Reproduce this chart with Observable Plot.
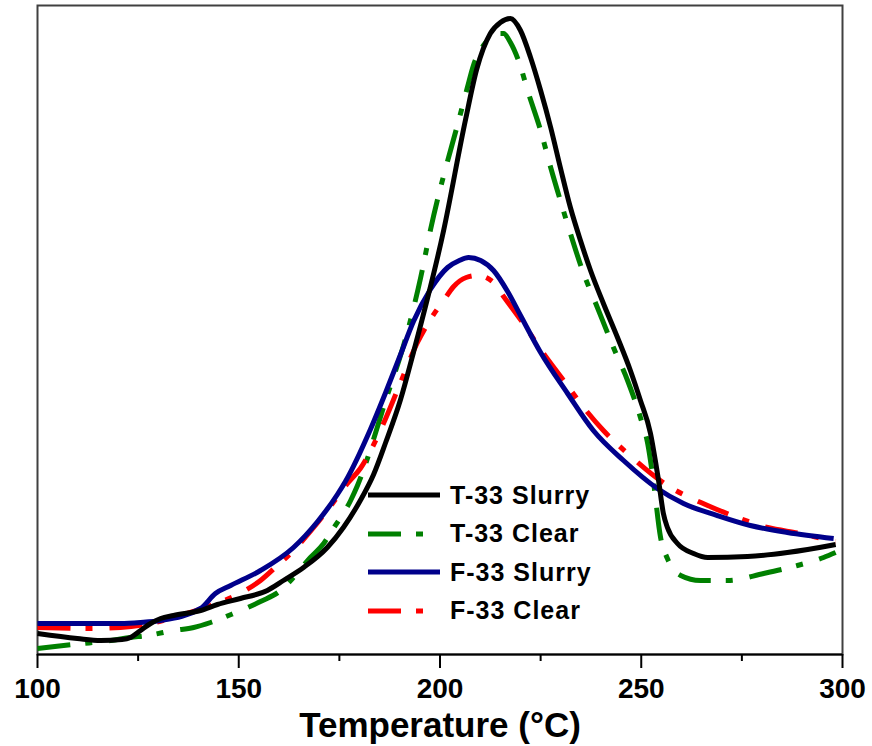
<!DOCTYPE html>
<html>
<head>
<meta charset="utf-8">
<script src="https://cdn.jsdelivr.net/npm/d3@7"></script>
<script src="https://cdn.jsdelivr.net/npm/@observablehq/plot@0.6"></script>
<style>
  html, body { margin: 0; padding: 0; background: #fff; }
  #wrap { position: relative; width: 872px; height: 746px; font-family: "Liberation Sans", Arial, sans-serif; }
  #legend { position: absolute; left: 368px; top: 476px; }
  .row { display: flex; align-items: center; height: 38.5px; }
  .row svg { width: 72px; height: 38px; margin-right: 10px; flex: none; }
  .row span { font-size: 25px; font-weight: bold; letter-spacing: 1px; color: #000; line-height: 1; }
</style>
</head>
<body>
<div id="wrap"></div>
<script>
// Series names and styles
const seriesNames = ["T-33 Slurry", "T-33 Clear", "F-33 Slurry", "F-33 Clear"];
const seriesColors = ["#000000", "#008000", "#00008b", "#ff0000"];
const seriesDash = [null, "33,15,7,17", null, "33,15,7,17"];

// Temperatures (°C) and signal values (arbitrary units)
const tempT33Slurry = [100,109.9,115.7,121.0,123.1,125.6,128.1,130.6,133.8,140.5,144.7,150.4,157.1,161.1,166.1,172.0,176.0,180.2,183.5,186.5,190.2,193.4,200.9,206.3,209.1,212.5,215.0,217.5,220.0,222.5,225.0,227.5,229.9,232.4,234.9,237.4,240.6,244.1,247.3,249.8,252.3,253.5,254.3,255.5,256.5,259.0,263.0,266.5,276.4,286.3,297.0,298.3];
const valT33Slurry  = [21,16,14,15,17,24,31,36,39,44,50,56,64,74,87,107,127,154,180,212,255,302,424,534,585,621,632,636,624,597,564,527,487,447,414,384,351,317,284,254,221,194,174,141,127,111,101,97,98,102,109,110];

const tempT33Clear = [100,106.5,111.4,118.1,123.1,127.3,133.8,138.8,143.0,148.7,155.4,160.4,162.9,167.8,171.1,173.5,177.8,179.5,186.5,192.2,195.2,197.6,205.1,206.8,208.3,210.8,214.5,215.8,217.5,219.5,222.0,225.0,227.5,229.9,232.4,235.4,239.1,243.1,246.6,249.8,251.6,253.0,254.8,256.5,259.8,264.7,271.4,280.4,288.8,295.3,298.3];
const valT33Clear  = [6,9,11,14,17,19,24,27,32,41,53,64,74,97,111,126,154,169,254,327,377,424,541,567,589,609,621,621,612,594,561,524,487,454,421,384,347,307,274,237,211,174,117,96,79,74,74,81,89,97,102];

const tempF33Slurry = [100,110.7,120.6,125.6,130.6,140.5,144.2,148.0,155.4,163.6,169.6,174.5,176.5,182.7,186.5,190.2,193.4,197.6,201.9,204.8,207.1,210.1,213.3,216.8,220.0,225.0,231.7,238.1,245.6,254.0,260.5,268.9,277.1,286.3,297.8];
const valF33Slurry  = [31,31,31,32,34,46,61,69,84,107,133,160,173,225,262,300,333,365,387,394,397,394,384,363,339,302,261,224,194,166,151,139,129,122,116];

const tempF33Clear = [100,112.4,120.6,128.1,136.3,143.0,149.2,155.4,159.6,163.6,168.6,173.3,177.0,180.2,186.5,190.2,194.4,197.6,200.9,203.4,206.5,209.3,213.3,215.8,220.7,225.7,230.7,235.7,240.6,246.6,256.5,266.5,273.9,281.4,289.6,297.0,298.3];
const valF33Clear  = [27,26,27,31,40,49,59,74,89,104,127,151,171,186,236,272,312,335,354,368,377,379,372,358,331,301,274,247,224,201,169,149,137,127,121,114,113];

// Axis ticks
const majorTicks = [100, 150, 200, 250, 300];
const minorTicks = [125, 175, 225, 275];
const xTitle = "Temperature (°C)";

const temps = [tempT33Slurry, tempT33Clear, tempF33Slurry, tempF33Clear];
const vals = [valT33Slurry, valT33Clear, valF33Slurry, valF33Clear];

const series = seriesNames.map((name, i) => temps[i].map((t, j) => ({series: name, T: t, v: vals[i][j]})));

const drawOrder = [1, 3, 2, 0];
const lineMarks = drawOrder.map(i => Plot.line(series[i], {
  x: "T", y: "v",
  stroke: seriesColors[i],
  strokeWidth: 5,
  strokeDasharray: seriesDash[i] || undefined,
  strokeLinecap: "butt",
  curve: "monotone-x"
}));

const chart = Plot.plot({
  width: 872,
  height: 746,
  marginLeft: 37,
  marginRight: 30,
  marginTop: 5,
  marginBottom: 92,
  style: {fontFamily: "'Liberation Sans', Arial, sans-serif", background: "#fff", color: "#000"},
  x: {domain: [100, 300]},
  y: {domain: [0, 649], axis: null},
  marks: [
    Plot.frame({stroke: "#404040", strokeWidth: 2}),
    ...lineMarks,
    Plot.ruleY([0], {stroke: "#000", strokeWidth: 2}),
    Plot.axisX({ticks: majorTicks, tickSize: 14, tickPadding: 10, fontSize: 28, fontWeight: "bold", strokeWidth: 2, label: null}),
    Plot.axisX({ticks: minorTicks, tickSize: 7, tickFormat: () => "", strokeWidth: 2, label: null}),
    Plot.text([xTitle], {frameAnchor: "bottom", dy: 71, fontSize: 35, fontWeight: "bold", lineAnchor: "middle", text: d => d})
  ]
});

const wrap = document.getElementById("wrap");
wrap.appendChild(chart);

// Legend (inside plot area)
const legend = document.createElement("div");
legend.id = "legend";
seriesNames.forEach((name, i) => {
  const row = document.createElement("div");
  row.className = "row";
  const dash = seriesDash[i] ? ` stroke-dasharray="${seriesDash[i]}"` : "";
  row.innerHTML = `<svg viewBox="0 0 72 38"><line x1="0" y1="19" x2="72" y2="19" stroke="${seriesColors[i]}" stroke-width="5"${dash}/></svg><span>${name}</span>`;
  legend.appendChild(row);
});
wrap.appendChild(legend);
</script>
</body>
</html>
